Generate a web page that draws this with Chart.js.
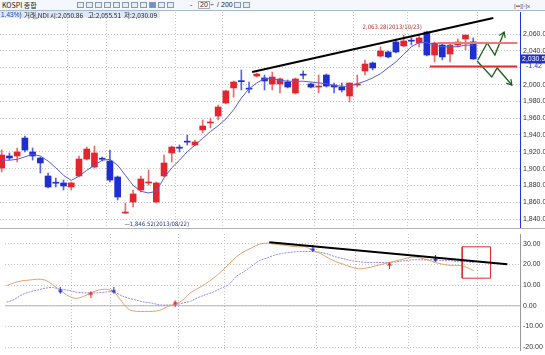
<!DOCTYPE html>
<html><head><meta charset="utf-8">
<script src="https://cdn.jsdelivr.net/npm/chart.js@4.4.0/dist/chart.umd.min.js"></script>
<style>
html,body{margin:0;padding:0}
body{width:545px;height:355px;overflow:hidden;background:#fff;position:relative;font-family:'Liberation Sans','Noto Sans CJK KR',sans-serif}
#tb{position:absolute;left:0;top:0;width:545px;height:11px;background:#f4f7fb;border-bottom:1px solid #a9b9cf;box-sizing:border-box;z-index:3}
.t{position:absolute;font-size:7px;line-height:8px;white-space:nowrap;color:#222}
.ic{position:absolute;top:2px;width:7px;height:6px;border:1px solid #8797ad;box-sizing:border-box;background:#e6edf6}
#info{position:absolute;left:0;top:11px;height:7px;width:160px;background:#dce8f5;z-index:3}
canvas{position:absolute;left:0}
#c1{top:12px}
#c2{top:229px}
#sep{position:absolute;left:0;top:228px;width:545px;height:1px;background:#b4b4b4;z-index:2}
</style></head>
<body>
<div id="tb">
  <span class="t" style="left:2px;top:1px;font-family:'Noto Sans CJK KR';font-size:7px">KOSPI 종합</span>
  <span class="ic" style="left:77px"></span><span class="ic" style="left:86px"></span><span class="ic" style="left:95px"></span>
  <span class="ic" style="left:104px"></span><span class="ic" style="left:113px"></span><span class="ic" style="left:122px"></span>
  <span class="ic" style="left:131px"></span><span class="ic" style="left:140px"></span><span class="ic" style="left:149px;background:#6d8fd6"></span>
  <span class="ic" style="left:158px"></span><span class="ic" style="left:167px"></span>
  <span class="t" style="left:190px;top:1px">-</span>
  <span class="t" style="left:198px;top:1px;border:1px solid #aab;background:#fff;line-height:6px;padding:0 1px">20</span>
  <span class="t" style="left:210px;top:1px">÷</span>
  <span class="t" style="left:217px;top:1px">/</span>
  <span class="t" style="left:221px;top:1px">200</span>
  <span class="ic" style="left:234px"></span><span class="ic" style="left:243px"></span>
  <span class="t" style="left:514px;top:2px;font-size:6px;color:#556">[▪▪][▫]x</span>
</div>
<div id="info">
  <span class="t" style="left:1px;top:0px;color:#2040c0;font-size:6.5px">1.43%)</span>
  <span class="t" style="left:24px;top:0px;font-size:6.5px;font-family:'Noto Sans CJK KR'">거래,NDI</span>
  <span class="t" style="left:50px;top:0px;font-size:6.5px;font-family:'Noto Sans CJK KR'">시:2,050.86</span>
  <span class="t" style="left:88px;top:0px;font-size:6.5px;font-family:'Noto Sans CJK KR'">고:2,055.51</span>
  <span class="t" style="left:124px;top:0px;font-size:6.5px;font-family:'Noto Sans CJK KR'">저:2,030.09</span>
</div>
<canvas id="c1" width="545" height="216"></canvas>
<div id="sep"></div>
<canvas id="c2" width="545" height="126"></canvas>
<script>
// ---------- data ----------
const opens  = [1900.7,1915.0,1915.0,1936.4,1919.8,1912.6,1891.2,1883.2,1882.9,1878.1,1891.2,1911.4,1901.9,1911.6,1909.0,1890.0,1847.1,1860.2,1874.5,1882.9,1860.2,1891.2,1918.6,1924.7,1931.9,1928.1,1946.0,1954.3,1962.6,1978.1,1996.0,2004.3,1995.0,2010.2,2007.9,2000.7,2000.7,2003.1,1990.0,2011.6,2000.7,1997.1,2011.4,1999.5,1997.1,1986.4,1999.5,2016.2,2025.7,2034.0,2038.8,2050.7,2046.0,2052.1,2049.5,2062.6,2035.2,2047.1,2036.4,2047.1,2054.3,2050.86];
const highs  = [1922.1,1918.6,1924.5,1938.8,1924.5,1913.8,1894.8,1888.8,1886.4,1884.0,1915.0,1925.7,1926.9,1913.8,1922.1,1891.2,1859.0,1874.5,1891.2,1898.3,1884.0,1916.2,1926.9,1928.1,1940.0,1934.0,1957.9,1960.2,1975.7,1993.6,2004.3,2017.4,2003.1,2013.8,2011.4,2015.0,2007.9,2005.5,2007.9,2016.2,2001.9,2011.4,2012.6,2001.9,2001.9,2001.9,2011.4,2029.3,2026.9,2044.8,2040.0,2054.3,2059.0,2055.5,2059.0,2063.28,2050.7,2049.5,2049.5,2054.3,2059.0,2055.51];
const lows   = [1896.0,1910.2,1907.9,1919.8,1910.2,1894.8,1876.9,1878.1,1874.5,1874.5,1890.0,1910.2,1900.7,1909.0,1884.0,1862.6,1846.52,1854.3,1872.1,1880.5,1859.0,1890.0,1907.9,1919.8,1928.1,1926.9,1942.4,1948.3,1957.9,1976.9,1985.2,1993.6,1990.0,2009.0,1993.6,1993.6,1990.0,1996.0,1988.8,2006.7,1996.0,1990.0,1997.1,1990.0,1991.2,1979.3,1997.1,2011.4,2017.4,2032.9,2031.7,2037.6,2044.8,2047.1,2044.8,2034.0,2026.9,2029.3,2026.9,2044.8,2041.2,2030.09];
const closes = [1916.2,1912.6,1919.8,1922.1,1915.0,1906.7,1878.1,1882.6,1879.3,1882.9,1911.4,1923.3,1918.6,1911.2,1886.4,1866.2,1848.3,1869.8,1887.6,1884.0,1882.9,1906.7,1925.7,1924.3,1931.5,1931.7,1950.7,1955.5,1973.3,1992.4,2003.1,2003.5,1994.6,2012.6,2004.3,2009.0,2006.7,1997.1,2006.7,2011.2,1997.1,1998.3,1998.3,1997.1,1993.6,2001.9,2000.7,2024.5,2019.8,2040.0,2032.9,2038.8,2051.9,2051.7,2055.5,2035.2,2049.5,2032.9,2047.1,2050.7,2059.0,2030.5];
const ma     = [1910,1910,1911,1914,1917,1915,1909,1901,1892,1886,1891,1898,1904,1910,1911,1904,1892,1880,1873,1871,1873,1889,1901,1910,1920,1928,1936,1944,1951,1959,1970,1984,1995,2002,2007,2007,2005,2004,2004,2004,2003,2002,2001,1999,1998,1998,2001,2004,2008,2013,2020,2027,2036,2045,2050,2050,2047,2045,2045,2045,2047,2047];
const oscA   = [9.8,11.2,12.1,12.5,12.9,12.5,10.3,7.6,4.9,3.6,4.5,6.3,7.6,8.0,6.7,2.2,-1.8,-2.7,-2.7,-2.7,-2.2,-0.4,0.9,2.7,6.3,8.5,10.7,13.4,16.5,20.1,23.7,26.3,28.1,29.9,30.4,29.9,29.5,29.0,28.6,28.6,26.8,25.4,23.2,21.4,20.1,18.8,17.9,18.3,19.2,20.1,21.0,21.9,22.8,23.7,23.2,22.3,21.0,20.1,19.6,19.6,18.8,17.0];
const oscB   = [1.8,3.1,5.4,6.7,7.6,8.5,8.9,8.0,7.6,6.7,6.3,6.3,6.3,6.7,6.7,4.9,3.6,2.7,1.8,1.3,0.4,0.4,0.4,1.3,2.2,4.0,5.4,6.7,8.5,10.3,14.3,16.5,19.2,21.9,23.2,24.6,25.4,25.9,26.3,26.3,26.3,25.9,25.0,23.7,22.8,21.9,21.4,21.0,21.0,21.0,21.0,21.4,21.9,22.3,22.3,22.3,22.3,21.9,21.9,21.4,21.4,21.0];
const sellSignalIdx = [7,14,40,56];
const sellSignalVal = [7.6,7.6,27.7,22.8];
const buySignalIdx  = [11,22,50];
const buySignalVal  = [5.4,0.9,19.6];
const priceTicks = [1840,1860,1880,1900,1920,1940,1960,1980,2000,2020,2040,2060];
const priceTickLabels = ['1,840.00','1,860.00','1,880.00','1,900.00','1,920.00','1,940.00','1,960.00','1,980.00','2,000.00','2,020.00','2,040.00','2,060.00'];
const oscTicks = [-20,-10,0,10,20,30];
const oscTickLabels = ['-20.00','-10.00','0.00','10.00','20.00','30.00'];
const periodBreaks = [8.5,13.5,22.5,28.5,40.5,45.5,52.5,61.5];
const peakLabel = '2,063.28(2013/10/23)';
const lowLabel  = '—1,846.52(2013/08/22)';
const changeLabel = '-1.42';
// drawn annotations (index, value)
const priceTrendIdx = [32.4, 63.6], priceTrendVal = [2015.0, 2079.3];
const resistIdx = [56.4, 66.7], resistVal = 2049.5;
const supportIdx = [55.4, 66.7], supportVal = 2021.5;
const upPathIdx = [61.6, 62.8, 63.8, 65.0], upPathVal = [2029.3, 2049.5, 2035.2, 2062.6];
const dnPathIdx = [61.5, 63.4, 64.1, 66.0], dnPathVal = [2028.1, 2009.0, 2019.8, 1999.5];
const oscTrendIdx = [34.3, 65.4], oscTrendVal = [30.8, 20.1];
const boxIdx = [59.5, 63.2], boxVal = [13.4, 28.6];

// ---------- chart ----------
const FONT = "'Liberation Sans', Arial, sans-serif";
Chart.defaults.font.family = FONT;
const N = opens.length;
const RED = '#e3262d', BLUE = '#1e2ecf';
const up = i => closes[i] >= opens[i];
const X_MIN = -0.22, X_MAX = 67.05;
const pts = (xs, ys) => xs.map((x, i) => ({x, y: Array.isArray(ys) ? ys[i] : ys}));

function xAxis() {
  return {
    type: 'linear', min: X_MIN, max: X_MAX, offset: false,
    grid: {offset: false, color: '#c4c4c4', lineWidth: 1, drawTicks: false, borderDash: [1, 2]},
    border: {display: false, dash: [1, 2]},
    ticks: {display: false},
    afterBuildTicks: s => { s.ticks = periodBreaks.map(v => ({value: v})); },
    afterFit: s => { s.height = 0; s.paddingLeft = 0; s.paddingRight = 0; }
  };
}

const mainAnnot = {
  id: 'mainAnnot',
  afterDatasetsDraw(chart) {
    const {ctx, scales: {x, y}} = chart;
    ctx.save();
    chart.data.datasets.forEach((ds, i) => {
      if (!ds.arrowEnd) return;
      const p = chart.getDatasetMeta(i).data;
      const a = p[p.length - 2], b = p[p.length - 1];
      const ang = Math.atan2(b.y - a.y, b.x - a.x);
      ctx.strokeStyle = ds.borderColor; ctx.lineWidth = 1.2;
      ctx.beginPath();
      ctx.moveTo(b.x - 6 * Math.cos(ang - 0.55), b.y - 6 * Math.sin(ang - 0.55));
      ctx.lineTo(b.x, b.y);
      ctx.lineTo(b.x - 6 * Math.cos(ang + 0.55), b.y - 6 * Math.sin(ang + 0.55));
      ctx.stroke();
    });
    const pk = highs.indexOf(Math.max(...highs));
    const lo = lows.indexOf(Math.min(...lows));
    ctx.font = "6px 'Liberation Sans Narrow', 'DejaVu Sans Condensed', sans-serif";
    ctx.textBaseline = 'middle';
    ctx.fillStyle = '#b43434'; ctx.textAlign = 'right';
    ctx.fillText(peakLabel, x.getPixelForValue(pk) - 5, y.getPixelForValue(highs[pk]) - 4);
    ctx.fillStyle = '#283a8c'; ctx.textAlign = 'left';
    ctx.fillText(lowLabel, x.getPixelForValue(lo) - 1, y.getPixelForValue(lows[lo]) + 11);
    ctx.restore();
  },
  afterDraw(chart) {
    const {ctx, scales: {y}} = chart;
    const last = closes[N - 1];
    const py = y.getPixelForValue(last);
    ctx.save();
    ctx.fillStyle = '#fff';
    ctx.fillRect(521, py + 4, 24, 9);
    ctx.fillStyle = '#2231c4';
    ctx.fillRect(521, py - 4.5, 24, 9);
    ctx.font = "7px " + FONT; ctx.textBaseline = 'middle'; ctx.textAlign = 'left';
    ctx.fillStyle = '#fff';
    ctx.fillText(last.toLocaleString('en-US', {minimumFractionDigits: 2, maximumFractionDigits: 2}), 522, py);
    ctx.fillStyle = '#2231c4';
    ctx.fillText(changeLabel, 526, py + 7.5);
    ctx.restore();
  }
};

new Chart(document.getElementById('c1'), {
  type: 'bar',
  data: {
    datasets: [
      {type: 'line', data: pts(priceTrendIdx, priceTrendVal), borderColor: '#000', borderWidth: 2, pointRadius: 0, order: 0},
      {type: 'line', data: pts(resistIdx, resistVal), borderColor: '#f07878', borderWidth: 2, pointRadius: 0, order: 0},
      {type: 'line', data: pts(supportIdx, supportVal), borderColor: '#e42a2a', borderWidth: 2, pointRadius: 0, order: 0},
      {type: 'line', data: pts(upPathIdx, upPathVal), borderColor: '#1b5e1b', borderWidth: 1.3, pointRadius: 0, order: 0, arrowEnd: true},
      {type: 'line', data: pts(dnPathIdx, dnPathVal), borderColor: '#1b5e1b', borderWidth: 1.3, pointRadius: 0, order: 0, arrowEnd: true},
      {type: 'line', data: ma.map((v, i) => ({x: i, y: v})), borderColor: '#5a5ad2', borderWidth: 1, pointRadius: 0, order: 1},
      {type: 'bar', data: opens.map((o, i) => ({x: i, y: [o, closes[i]]})), grouped: false, barThickness: 6, minBarLength: 1,
       backgroundColor: c => up(c.dataIndex) ? RED : BLUE, borderWidth: 0, order: 2},
      {type: 'bar', data: lows.map((l, i) => ({x: i, y: [l, highs[i]]})), grouped: false, barThickness: 1,
       backgroundColor: c => up(c.dataIndex) ? '#ec6a6f' : '#5a63dc', borderWidth: 0, order: 3}
    ]
  },
  options: {
    responsive: false, animation: false, devicePixelRatio: 1,
    layout: {padding: 0},
    plugins: {legend: {display: false}, tooltip: {enabled: false}},
    scales: {
      x: xAxis(),
      y: {
        position: 'right', min: 1829.3, max: 2086.4,
        grid: {color: '#c4c4c4', drawTicks: false, borderDash: [1, 2]},
        border: {display: true, color: '#1f33e0', width: 1, dash: [1, 2]},
        ticks: {padding: 3, color: '#333', font: {size: 7}, callback: (v, i) => priceTickLabels[i]},
        afterBuildTicks: s => { s.ticks = priceTicks.map(v => ({value: v})); },
        afterFit: s => { s.width = 25; s.paddingTop = 0; s.paddingBottom = 0; }
      }
    }
  },
  plugins: [mainAnnot]
});

function arrowImg(color, isUp) {
  const c = document.createElement('canvas'); c.width = 5; c.height = 7;
  const g = c.getContext('2d'); g.fillStyle = color;
  if (isUp) { g.fillRect(2, 2, 1, 5); g.beginPath(); g.moveTo(2.5, 0); g.lineTo(5, 3.5); g.lineTo(0, 3.5); g.fill(); }
  else { g.fillRect(2, 0, 1, 5); g.beginPath(); g.moveTo(2.5, 7); g.lineTo(5, 3.5); g.lineTo(0, 3.5); g.fill(); }
  return c;
}

new Chart(document.getElementById('c2'), {
  type: 'line',
  data: {
    datasets: [
      {data: pts(oscTrendIdx, oscTrendVal), borderColor: '#000', borderWidth: 2, pointRadius: 0, order: 0},
      {data: [{x: boxIdx[0], y: boxVal[0]}, {x: boxIdx[1], y: boxVal[0]}, {x: boxIdx[1], y: boxVal[1]}, {x: boxIdx[0], y: boxVal[1]}, {x: boxIdx[0], y: boxVal[0]}],
       borderColor: '#e02a2a', borderWidth: 1, pointRadius: 0, order: 0},
      {data: pts(sellSignalIdx, sellSignalVal), showLine: false, pointStyle: arrowImg('#1e2ecf', false), pointRadius: 3, order: 0},
      {data: pts(buySignalIdx, buySignalVal), showLine: false, pointStyle: arrowImg('#e3262d', true), pointRadius: 3, order: 0},
      {data: oscA.map((v, i) => ({x: i, y: v})), borderColor: '#e2a06a', borderWidth: 1, pointRadius: 0, tension: 0.3, order: 1},
      {data: oscB.map((v, i) => ({x: i, y: v})), borderColor: '#9a88dc', borderWidth: 1, borderDash: [2, 1], pointRadius: 0, tension: 0.3, order: 2},
      {data: [{x: X_MIN, y: 0}, {x: X_MAX, y: 0}], borderColor: '#b4b4b4', borderWidth: 1, pointRadius: 0, order: 3}
    ]
  },
  options: {
    responsive: false, animation: false, devicePixelRatio: 1,
    layout: {padding: 0},
    plugins: {legend: {display: false}, tooltip: {enabled: false}},
    scales: {
      x: xAxis(),
      y: {
        position: 'right', min: -21.43, max: 34.82,
        grid: {color: '#c4c4c4', drawTicks: false, borderDash: [1, 2]},
        border: {display: true, color: '#9a9a9a', width: 1, dash: [1, 2]},
        ticks: {padding: 3, color: '#333', font: {size: 7}, callback: (v, i) => oscTickLabels[i]},
        afterBuildTicks: s => { s.ticks = oscTicks.map(v => ({value: v})); },
        afterFit: s => { s.width = 25; s.paddingTop = 0; s.paddingBottom = 0; }
      }
    }
  }
});
</script>
</body></html>
